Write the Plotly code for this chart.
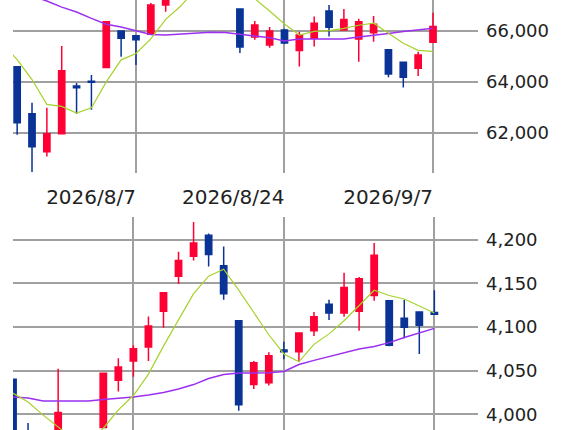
import plotly.graph_objects as go

RED = "#ff0035"
BLUE = "#0a3396"
GREEN = "#a6d22a"
PURPLE = "#9b30f0"
GRID = "#a0a0a0"
TEXT = "#222222"
FONT = "DejaVu Sans, Verdana, sans-serif"

# trading days (8/11 is a holiday); the first day only carries the moving averages
DATES = [
    "2026/7/27", "2026/7/28", "2026/7/29", "2026/7/30", "2026/7/31",
    "2026/8/3", "2026/8/4", "2026/8/5", "2026/8/6", "2026/8/7",
    "2026/8/10", "2026/8/12", "2026/8/13", "2026/8/14", "2026/8/17",
    "2026/8/18", "2026/8/19", "2026/8/20", "2026/8/21", "2026/8/24",
    "2026/8/25", "2026/8/26", "2026/8/27", "2026/8/28", "2026/8/31",
    "2026/9/1", "2026/9/2", "2026/9/3", "2026/9/4", "2026/9/7",
]
CANDLE_DATES = DATES[1:]
TICK_DATES = ["2026/8/7", "2026/8/24", "2026/9/7"]

# upper chart
top_open = [64590, 62750, 61270, 61970, 63840, 64020, 64560, 65990, 65800, 65860,
            67000, 67700, 68900, 69200, 68600, 66850, 65750, 65440, 66030, 65220,
            65700, 66770, 66030, 65670, 65920, 65250, 64770, 64530, 65550]
top_high = [64620, 63180, 62990, 65400, 63960, 64270, 66350, 65990, 65800, 67080,
            67900, 69100, 69600, 69500, 68900, 66850, 66380, 66140, 66070, 65960,
            66550, 67000, 66850, 66460, 66570, 65250, 64770, 65180, 66700]
top_low = [61930, 60480, 61080, 61970, 62750, 62910, 64530, 64980, 64660, 65860,
           66740, 67500, 68500, 68400, 67900, 65130, 65640, 65330, 65480, 64600,
           65380, 65770, 66000, 64790, 65570, 64180, 63780, 64230, 65550]
top_close = [62400, 61470, 61970, 64430, 63770, 63980, 66350, 65700, 65640, 67000,
             67590, 68800, 69300, 68700, 68210, 65360, 66220, 65990, 65520, 65830,
             66290, 66130, 66440, 66350, 66250, 64310, 64180, 65050, 66160]
top_ma_short = [65500, 64870, 64090, 63120, 63040, 62780, 62990, 64000, 64860, 65110,
                65680, 66440, 66950, 67600, 68100, 68300, 67800, 67250, 66770, 66260,
                65830, 65970, 66000, 66090, 66210, 66290, 65900, 65510, 65230, 65190]
top_ma_long = [67900, 67600, 67350, 67160, 66920, 66730, 66480, 66250, 66140, 65990,
               65850, 65830, 65860, 65910, 65940, 65930, 65850, 65790, 65720, 65600,
               65670, 65670, 65670, 65670, 65750, 65810, 65890, 65970, 66030, 66090]

# lower chart
low_open = [4040, 3975, 3950, 3968, 3975, 3962, 3985, 4039, 4061, 4077,
            4118, 4158, 4181, 4205, 4170, 4107, 4034, 4036, 4073.5, 4071.5,
            4095.5, 4126, 4116, 4118, 4136, 4130, 4110, 4117, 4116.5]
low_high = [4040, 3990, 3972, 4052, 3980, 3975, 4047, 4064, 4079, 4112,
            4139, 4186, 4220, 4207, 4192, 4107, 4061, 4071, 4083, 4093,
            4117, 4131, 4162, 4157, 4196, 4130, 4131, 4117, 4142]
low_low = [3950, 3935, 3930, 3960, 3950, 3940, 3984, 4026, 4043, 4061,
           4099, 4149, 4176, 4169, 4131, 4004, 4029, 4033, 4063, 4060,
           4089.5, 4108, 4111.5, 4095.5, 4130, 4078, 4087, 4069, 4113.5]
low_close = [3960, 3945, 3942, 4002, 3965, 3955, 4047, 4054, 4075, 4101,
             4139, 4176, 4196, 4183, 4138, 4011, 4059, 4067, 4071.5, 4093,
             4111.5, 4116, 4145, 4155, 4182, 4079, 4099.5, 4102, 4114.5]
low_ma_short = [4034, 4024, 4014, 3999, 3985.5, 3972, 3966, 3984, 4005, 4021.5,
                4046, 4078, 4108, 4138, 4158, 4166, 4142, 4117, 4091, 4069,
                4060, 4080, 4092, 4107, 4124, 4142, 4136, 4132, 4124, 4116]
low_ma_long = [4021, 4019.8, 4018.6, 4015.2, 4015.2, 4015.2, 4015.2, 4017, 4018, 4019.8,
               4022, 4025, 4029, 4034, 4041, 4045.5, 4047.2, 4047.5, 4047.5, 4049,
               4057, 4061.7, 4066, 4070.5, 4074.6, 4077.5, 4082, 4087.8, 4093, 4098.3]


def _candles(o, h, l, c, xaxis, yaxis):
    return go.Candlestick(
        x=CANDLE_DATES, open=o, high=h, low=l, close=c,
        increasing=dict(line=dict(color=RED, width=1.5), fillcolor=RED),
        decreasing=dict(line=dict(color=BLUE, width=1.5), fillcolor=BLUE),
        whiskerwidth=0, showlegend=False, xaxis=xaxis, yaxis=yaxis,
    )


def _line(values, color, width, xaxis, yaxis):
    return go.Scatter(x=DATES, y=values, mode="lines", line=dict(color=color, width=width),
                      showlegend=False, hoverinfo="skip", xaxis=xaxis, yaxis=yaxis)


fig = go.Figure()
fig.add_trace(_candles(top_open, top_high, top_low, top_close, "x", "y"))
fig.add_trace(_line(top_ma_long, PURPLE, 1.5, "x", "y"))
fig.add_trace(_line(top_ma_short, GREEN, 1.2, "x", "y"))
fig.add_trace(_candles(low_open, low_high, low_low, low_close, "x2", "y2"))
fig.add_trace(_line(low_ma_long, PURPLE, 1.5, "x2", "y2"))
fig.add_trace(_line(low_ma_short, GREEN, 1.2, "x2", "y2"))

x_domain = [13 / 576, 478 / 576]
common_x = dict(
    type="category", categoryorder="array", categoryarray=DATES,
    tickmode="array", tickvals=TICK_DATES, ticktext=TICK_DATES,
    showgrid=True, gridcolor=GRID, gridwidth=1.5, zeroline=False, showline=False,
    ticks="", rangeslider=dict(visible=False), domain=x_domain,
)
common_y = dict(
    side="right", showgrid=True, gridcolor=GRID, gridwidth=1.5, zeroline=False,
    showline=False, ticks="", tickformat=",", ticklabelstandoff=7,
    tickfont=dict(size=18, color=TEXT, family=FONT),
)

fig.update_layout(
    width=576, height=430,
    margin=dict(l=0, r=0, t=0, b=0),
    paper_bgcolor="white", plot_bgcolor="white",
    font=dict(family=FONT, color=TEXT),
    boxgap=0.4,
    xaxis=dict(common_x, anchor="y", range=[0.72, 32.03],
               ticklabelposition="outside left", ticklabelstandoff=10,
               tickfont=dict(size=20, color=TEXT, family=FONT)),
    yaxis=dict(common_y, anchor="x", domain=[1 - 173 / 430, 1], range=[60440, 67197],
               tickvals=[62000, 64000, 66000]),
    xaxis2=dict(common_x, anchor="y2", range=[1.0, 31.9], showticklabels=False),
    yaxis2=dict(common_y, anchor="x2", domain=[0, 1 - 217 / 430], range=[3982, 4225.8],
                tickvals=[4000, 4050, 4100, 4150, 4200]),
)

# the page body has a default 8px margin; drop it so the chart fills the window
fig.write_html("out.html", config={"displayModeBar": False},
               post_script="document.body.style.margin = '0';")
